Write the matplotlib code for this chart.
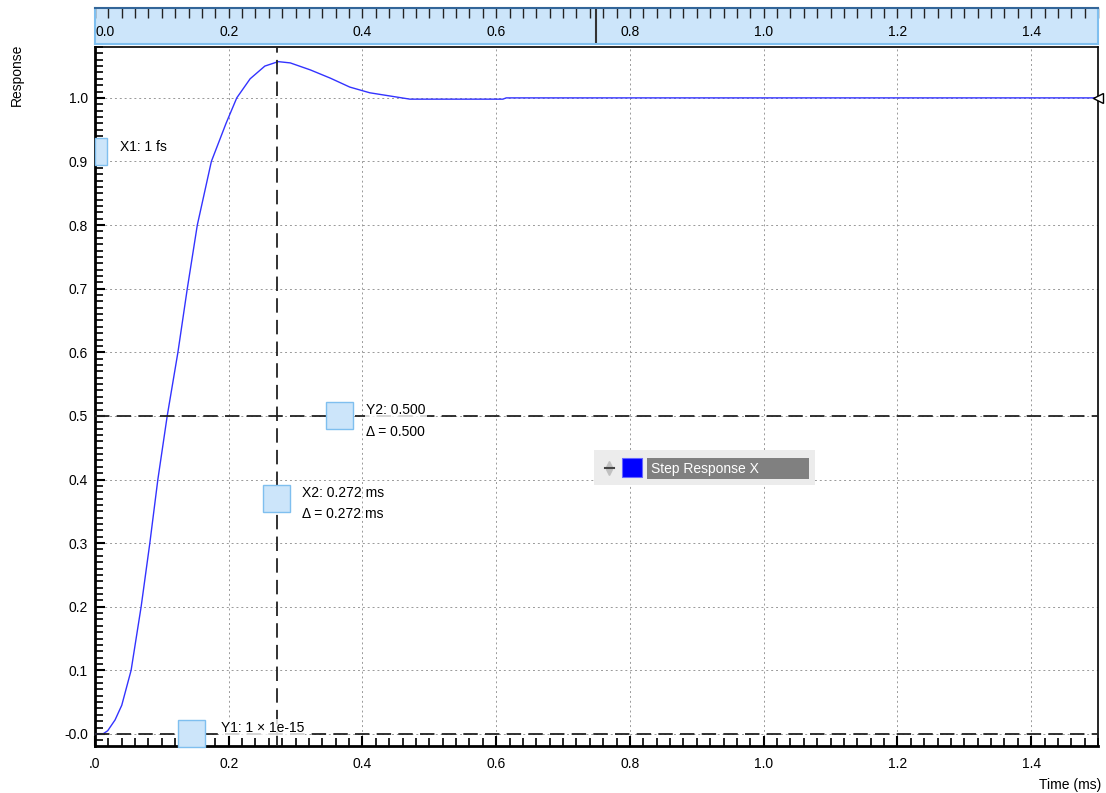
import numpy as np
import matplotlib
matplotlib.use("Agg")
from matplotlib import pyplot as plt
from matplotlib.patches import Rectangle
from matplotlib.ticker import MultipleLocator

# step response samples (time in ms, response)
t_ms = [0.0, 0.012, 0.019, 0.03, 0.04, 0.054, 0.069, 0.082, 0.094, 0.108, 0.116,
        0.124, 0.138, 0.153, 0.174, 0.196, 0.212, 0.232, 0.254, 0.274, 0.292,
        0.322, 0.352, 0.381, 0.411, 0.441, 0.471, 0.61, 0.615, 1.5]
resp = [0.0, 0.0, 0.005, 0.022, 0.045, 0.1, 0.2, 0.3, 0.4, 0.5, 0.55,
        0.6, 0.7, 0.8, 0.9, 0.96, 1.0, 1.03, 1.05, 1.057, 1.055,
        1.044, 1.031, 1.017, 1.008, 1.003, 0.998, 0.998, 1.0, 1.0]

x_ticks = [0.0, 0.2, 0.4, 0.6, 0.8, 1.0, 1.2, 1.4]
y_ticks = [0.0, 0.1, 0.2, 0.3, 0.4, 0.5, 0.6, 0.7, 0.8, 0.9, 1.0]
y_labels = ["-0.0", "0.1", "0.2", "0.3", "0.4", "0.5", "0.6", "0.7", "0.8", "0.9", "1.0"]

x1, x2 = 1e-12, 0.272
y1, y2 = 1e-15, 0.500
ruler_mark = 0.749

W, H = 1106, 793
fig = plt.figure(figsize=(W / 100, H / 100), dpi=100)
plt.rcParams['font.family'] = ['Liberation Sans', 'DejaVu Sans']

ax = fig.add_axes([95 / W, (H - 746) / H, 1003 / W, 699 / H])
ax.set_xlim(0, 1.5)
ax.set_ylim(-0.019, 1.08)

ax.plot(t_ms, resp, color='#3333ff', lw=1.0, zorder=3)
ax.plot([1.5], [1.0], marker='<', ms=7, mfc='white', mec='black', mew=1, clip_on=False, zorder=5)

ax.xaxis.set_major_locator(MultipleLocator(0.2))
ax.xaxis.set_minor_locator(MultipleLocator(0.02))
ax.set_yticks(y_ticks)
ax.set_yticklabels(y_labels)
ax.yaxis.set_minor_locator(MultipleLocator(0.01))
ax.set_xticks(x_ticks)
ax.set_xticklabels([".0"] + ["%.1f" % v for v in x_ticks[1:]])
ax.get_xticklabels()[0].set_color('#aaaaaa')
ax.tick_params(axis='both', which='both', direction='in', labelsize=10, colors='black')
ax.tick_params(axis='both', which='major', length=7, width=1.5)
ax.tick_params(axis='both', which='minor', length=6, width=1.2)
ax.tick_params(axis='x', pad=8)
ax.tick_params(axis='y', pad=5)
ax.grid(True, which='major', color='#999999', linestyle=(0, (2, 3)), lw=0.7)
for s in ['left', 'bottom']:
    ax.spines[s].set_linewidth(2)
for s in ['top', 'right']:
    ax.spines[s].set_linewidth(1.2)

# cursors
dash = (0, (8, 4))
ax.axvline(x2, color='#222222', lw=1.3, ls=dash, zorder=4)
ax.axhline(y2, color='#222222', lw=1.3, ls=dash, zorder=4)
ax.axhline(y1, color='#222222', lw=1.3, ls=dash, zorder=4)

box_fc, box_ec = '#cce5fa', '#7fbfef'
bw, bh = 27 / 668.67, 27 / 636.0


def handle(xc, yc, w=bw, h=bh):
    ax.add_patch(Rectangle((xc - w / 2, yc - h / 2), w, h, fc=box_fc, ec=box_ec,
                           lw=1, zorder=6, clip_on=False))


handle(0.009, 0.916, w=12 / 668.67, h=27 / 636.0)
handle(0.145, y1 + 0.0)
handle(0.366, y2)
handle(x2, 0.37)

lab = dict(fontsize=10, zorder=7, va='center')
ax.text(0.037, 0.922, "X1: 1 fs", **lab)
ax.text(0.188, 0.01, "Y1: 1 \u00d7 1e-15", bbox=dict(fc='white', ec='none', alpha=0.8, pad=1), **lab)
ax.text(0.406, 0.51, "Y2: 0.500", bbox=dict(fc='white', ec='none', alpha=0.8, pad=1), **lab)
ax.text(0.406, 0.475, "\u0394 = 0.500", **lab)
ax.text(0.31, 0.379, "X2: 0.272 ms", **lab)
ax.text(0.31, 0.345, "\u0394 = 0.272 ms", **lab)

# legend box
leg = fig.add_axes([594 / W, (H - 485) / H, 221 / W, 35 / H])
leg.set_xlim(0, 221)
leg.set_ylim(35, 0)
leg.set_facecolor('#ececec')
for s in leg.spines.values():
    s.set_visible(False)
leg.set_xticks([])
leg.set_yticks([])
leg.add_patch(Rectangle((28, 8), 20, 19, fc='#0000ff', ec='#6666ff', lw=0.8))
leg.add_patch(Rectangle((53, 8), 162, 21, fc='#808080', ec='none'))
leg.text(57, 19, "Step Response X", color='white', fontsize=10, va='center')
leg.plot([15], [14.5], marker='^', color='#c0c0c0', ms=5)
leg.plot([15], [21.5], marker='v', color='#c0c0c0', ms=5)
leg.plot([10.5, 19.5], [18, 18], color='#444444', lw=1.5)

# top ruler
rul = fig.add_axes([95 / W, (H - 44) / H, 1003 / W, 36 / H])
rul.set_xlim(0, 1.5)
rul.set_ylim(0, 1)
rul.set_facecolor(box_fc)
for s in rul.spines.values():
    s.set_color(box_ec)
    s.set_linewidth(1.5)
rul.spines['top'].set_color('#336699')
rul.xaxis.set_major_locator(MultipleLocator(0.2))
rul.xaxis.set_minor_locator(MultipleLocator(0.02))
rul.tick_params(axis='x', which='both', top=True, bottom=False, direction='in',
                labelbottom=False, length=7, width=1, colors='#222222')
rul.set_yticks([])
for v in x_ticks:
    rul.text(v, 0.32, "%.1f" % v, ha='center' if v > 0 else 'left', va='center', fontsize=10)
rul.axvline(ruler_mark, color='#333333', lw=1.5)

fig.text(17 / W, 1 - 75 / H, "Response", rotation=90, ha='center', va='center', fontsize=10)
fig.text(1070 / W, 1 - 785 / H, "Time (ms)", ha='center', va='center', fontsize=10)

fig.savefig("out.png", dpi=100)
